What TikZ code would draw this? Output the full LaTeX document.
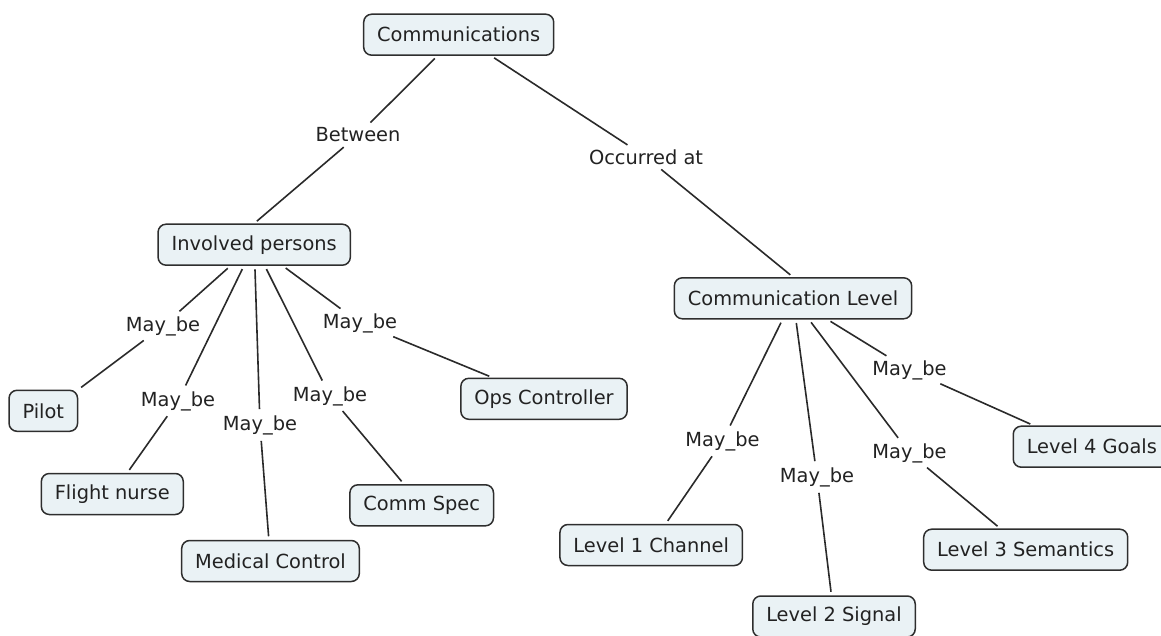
\documentclass[tikz,border=0pt]{standalone}
\usepackage{fontspec}
\setmainfont{DejaVu Sans}
\begin{document}
\definecolor{boxfill}{HTML}{EAF2F5}
\definecolor{boxline}{HTML}{2E2E2E}
\definecolor{inktext}{HTML}{222222}
\definecolor{linkline}{HTML}{2A2A2A}
\begin{tikzpicture}[x=1pt,y=-1pt,
  every node/.style={font=\fontsize{19.4}{23}\selectfont, text=inktext},
  concept/.style={draw=boxline, line width=1.5pt, fill=boxfill,
    rounded corners=8pt, inner xsep=13.5pt, inner ysep=0pt, minimum height=41pt},
  phrase/.style={inner sep=2.5pt},
  conn/.style={draw=linkline, line width=1.6pt, shorten <=3.5pt, shorten >=3.5pt}]
\useasboundingbox (0,0) rectangle (1161,636);

% concepts
\node[concept] (comm)  at (458.7,34.7)  {Communications};
\node[concept] (inv)   at (254.2,244.7) {Involved persons};
\node[concept] (pilot) at (43.3,410.8)  {Pilot};
\node[concept] (nurse) at (112.3,494)   {Flight nurse};
\node[concept] (med)   at (270.5,561)   {Medical Control};
\node[concept] (spec)  at (421.7,505.3) {Comm Spec};
\node[concept] (ops)   at (544,398.8)   {Ops Controller};
\node[concept] (level) at (793,298.3)   {Communication Level};
\node[concept] (l1)    at (651.2,545)   {Level 1 Channel};
\node[concept] (l2)    at (834,616.5)   {Level 2 Signal};
\node[concept] (l3)    at (1025.7,549.7){Level 3 Semantics};
\node[concept, anchor=west] (l4) at (1012.5,446.7) {Level 4 Goals};

% linking phrases
\node[phrase] (between) at (358,135)   {Between};
\node[phrase] (occ)     at (646,157)   {Occurred at};
\node[phrase] (mb1)     at (163,326)   {May\_be};
\node[phrase] (mb2)     at (178,401)   {May\_be};
\node[phrase] (mb3)     at (260,425)   {May\_be};
\node[phrase] (mb4)     at (330,396)   {May\_be};
\node[phrase] (mb5)     at (360,323)   {May\_be};
\node[phrase] (mb6)     at (722.5,441) {May\_be};
\node[phrase] (mb7)     at (817,477)   {May\_be};
\node[phrase] (mb8)     at (909.5,453) {May\_be};
\node[phrase] (mb9)     at (909.5,370) {May\_be};

% connections
\draw[conn] (comm) -- (between);
\draw[conn] (between) -- (inv.north);
\draw[conn] (comm) -- (occ);
\draw[conn] (occ) -- (level.north);

\draw[conn] (inv) -- (mb1);  \draw[conn] (mb1) -- (pilot.north east);
\draw[conn] (inv) -- (mb2);  \draw[conn] (mb2) -- (nurse);
\draw[conn] (inv) -- (mb3);  \draw[conn] (mb3) -- (med);
\draw[conn] (inv) -- (mb4);  \draw[conn] (mb4) -- (spec);
\draw[conn] (inv) -- (mb5);  \draw[conn] (mb5) -- (ops);

\draw[conn] (level) -- (mb6); \draw[conn] (mb6) -- (l1);
\draw[conn] (level) -- (mb7); \draw[conn] (mb7) -- (l2);
\draw[conn] (level) -- (mb8); \draw[conn] (mb8) -- (l3);
\draw[conn] (level) -- (mb9); \draw[conn] (mb9) -- ([xshift=21pt]l4.north west);
\end{tikzpicture}
\end{document}
